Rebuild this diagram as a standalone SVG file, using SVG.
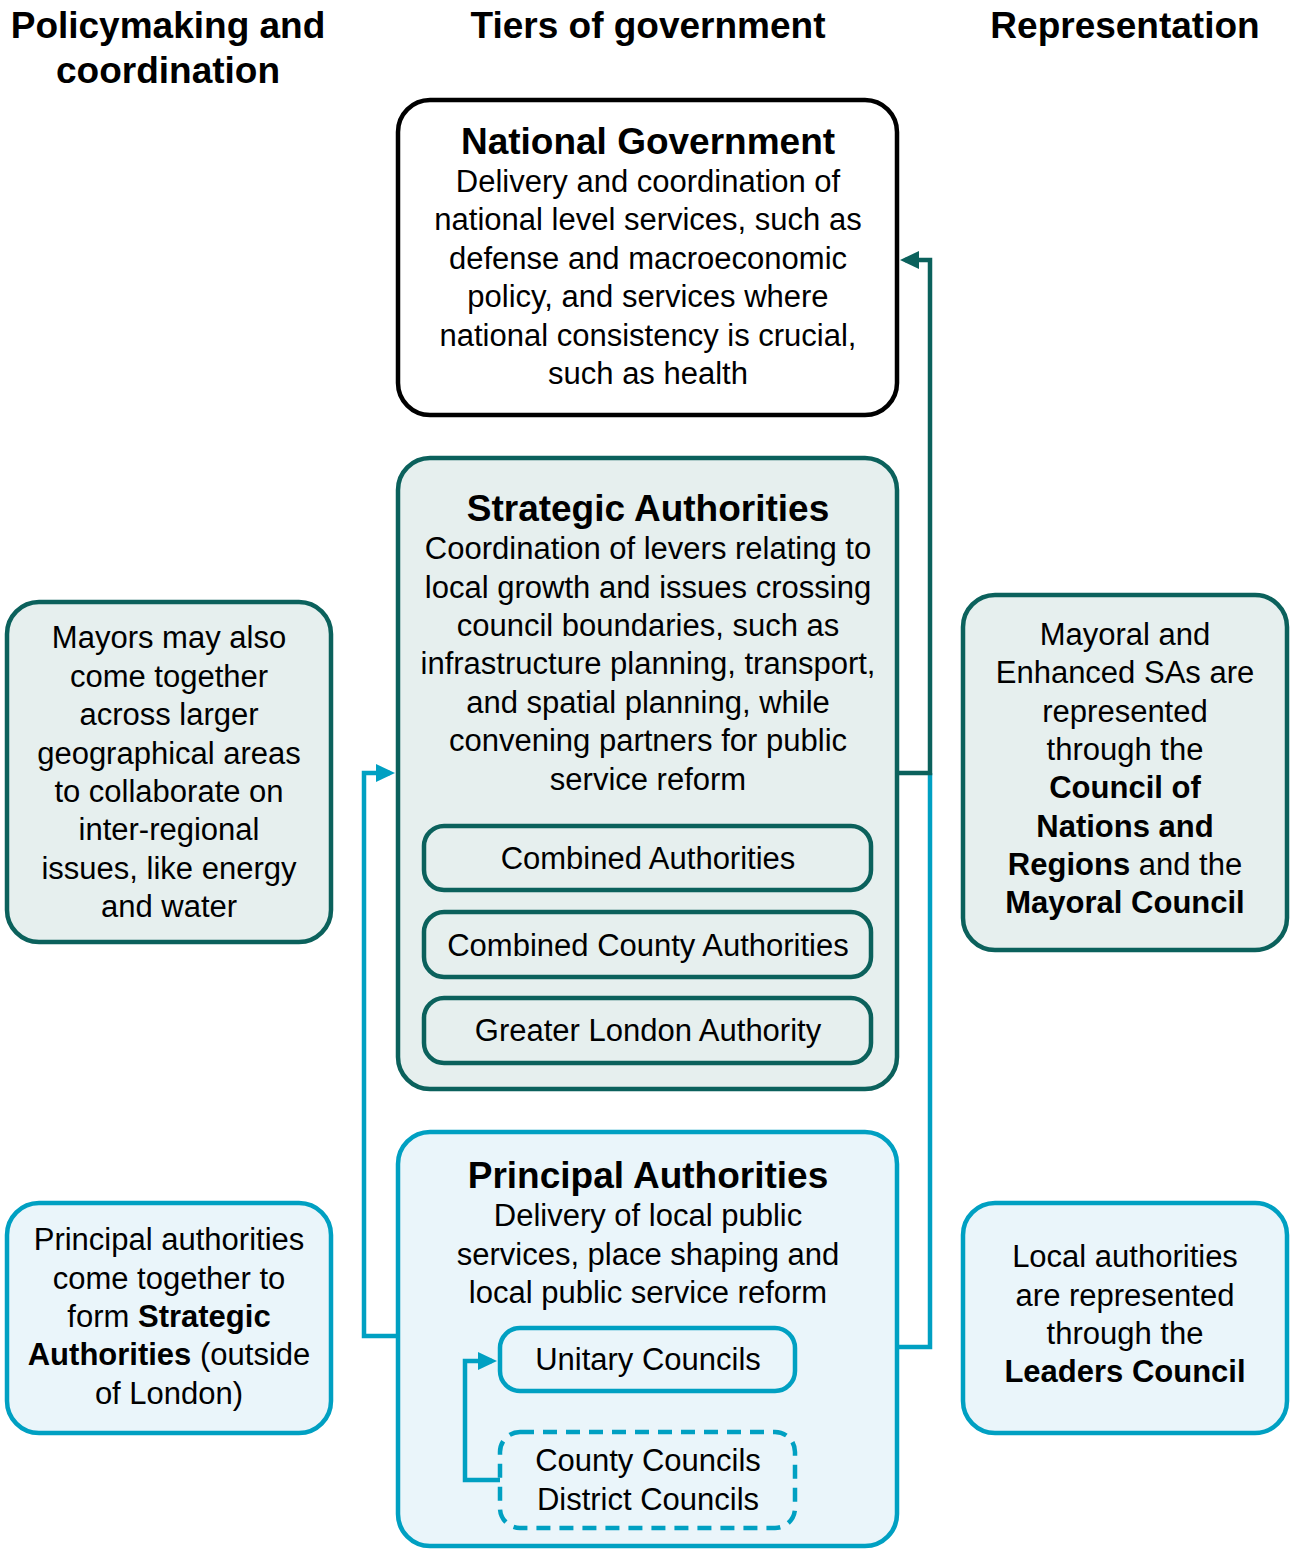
<svg xmlns="http://www.w3.org/2000/svg" width="1290" height="1549" viewBox="0 0 1290 1549">
<style>
text{font-family:"Liberation Sans",Arial,Helvetica,sans-serif;fill:#000;text-anchor:middle}
.h{font-size:37px;font-weight:bold}
.t{font-size:37px;font-weight:bold}
.b{font-size:31px}
.bb{font-weight:bold}
.nat{fill:#fff;stroke:#000;stroke-width:4.5}
.teal{fill:#e6efee;stroke:#0b615c;stroke-width:4.5}
.cyan{fill:#eaf5fa;stroke:#00a0c2;stroke-width:4.5}
.dash{stroke-dasharray:14 9}
.ct{fill:none;stroke:#0b615c;stroke-width:4.5}
.cc{fill:none;stroke:#00a0c2;stroke-width:4.5}
</style>
<defs>
<marker id="at" markerWidth="19" markerHeight="19" refX="14" refY="9.5" orient="auto" markerUnits="userSpaceOnUse"><path d="M0,0.5 L19,9.5 L0,18.5 z" fill="#0b615c"/></marker>
<marker id="ac" markerWidth="19" markerHeight="19" refX="14" refY="9.5" orient="auto" markerUnits="userSpaceOnUse"><path d="M0,0.5 L19,9.5 L0,18.5 z" fill="#00a0c2"/></marker>
</defs>
<g id="headers">
<text class="h" x="168" y="38">Policymaking and</text>
<text class="h" x="168" y="83">coordination</text>
<text class="h" x="648" y="38">Tiers of government</text>
<text class="h" x="1125" y="38">Representation</text>
</g>
<g id="connectors">
<path class="cc" d="M897,1347 H930 V773"/>
<path class="ct" d="M897,773 H930 V260 H905" marker-end="url(#at)"/>
<path class="cc" d="M398,1336 H364 V773 H390" marker-end="url(#ac)"/>
</g>
<g id="national">
<rect class="nat" x="398" y="100" width="499" height="315" rx="32"/>
<text class="t" x="648" y="154">National Government</text>
<text class="b" x="648" y="192">Delivery and coordination of</text>
<text class="b" x="648" y="230">national level services, such as</text>
<text class="b" x="648" y="269">defense and macroeconomic</text>
<text class="b" x="648" y="307">policy, and services where</text>
<text class="b" x="648" y="346">national consistency is crucial,</text>
<text class="b" x="648" y="384">such as health</text>
</g>
<g id="strategic">
<rect class="teal" x="398" y="458" width="499" height="631" rx="32"/>
<text class="t" x="648" y="521">Strategic Authorities</text>
<text class="b" x="648" y="559">Coordination of levers relating to</text>
<text class="b" x="648" y="598">local growth and issues crossing</text>
<text class="b" x="648" y="636">council boundaries, such as</text>
<text class="b" x="648" y="674">infrastructure planning, transport,</text>
<text class="b" x="648" y="713">and spatial planning, while</text>
<text class="b" x="648" y="751">convening partners for public</text>
<text class="b" x="648" y="790">service reform</text>
</g>
<g id="combined">
<rect class="teal" x="424" y="826" width="447" height="64" rx="20"/>
<text class="b" x="648" y="869">Combined Authorities</text>
</g>
<g id="combinedcounty">
<rect class="teal" x="424" y="912" width="447" height="65" rx="20"/>
<text class="b" x="648" y="956">Combined County Authorities</text>
</g>
<g id="gla">
<rect class="teal" x="424" y="998" width="447" height="65" rx="20"/>
<text class="b" x="648" y="1041">Greater London Authority</text>
</g>
<g id="principal">
<rect class="cyan" x="398" y="1132" width="499" height="414" rx="32"/>
<text class="t" x="648" y="1188">Principal Authorities</text>
<text class="b" x="648" y="1226">Delivery of local public</text>
<text class="b" x="648" y="1265">services, place shaping and</text>
<text class="b" x="648" y="1303">local public service reform</text>
</g>
<g id="inner-connector">
<path class="cc" d="M500,1480 H465 V1361 H492" marker-end="url(#ac)"/>
</g>
<g id="unitary">
<rect class="cyan" x="500" y="1328" width="295" height="63" rx="20"/>
<text class="b" x="648" y="1370">Unitary Councils</text>
</g>
<g id="countydistrict">
<rect class="cyan dash" x="500" y="1432" width="295" height="96" rx="20"/>
<text class="b" x="648" y="1471">County Councils</text>
<text class="b" x="648" y="1510">District Councils</text>
</g>
<g id="mayors">
<rect class="teal" x="7" y="602" width="324" height="340" rx="32"/>
<text class="b" x="169" y="648">Mayors may also</text>
<text class="b" x="169" y="687">come together</text>
<text class="b" x="169" y="725">across larger</text>
<text class="b" x="169" y="764">geographical areas</text>
<text class="b" x="169" y="802">to collaborate on</text>
<text class="b" x="169" y="840">inter-regional</text>
<text class="b" x="169" y="879">issues, like energy</text>
<text class="b" x="169" y="917">and water</text>
</g>
<g id="principal-note">
<rect class="cyan" x="7" y="1203" width="324" height="230" rx="32"/>
<text class="b" x="169" y="1250">Principal authorities</text>
<text class="b" x="169" y="1289">come together to</text>
<text class="b" x="169" y="1327">form <tspan class="bb">Strategic</tspan></text>
<text class="b" x="169" y="1365"><tspan class="bb">Authorities</tspan> (outside</text>
<text class="b" x="169" y="1404">of London)</text>
</g>
<g id="mayoral-rep">
<rect class="teal" x="963" y="595" width="324" height="355" rx="32"/>
<text class="b" x="1125" y="645">Mayoral and</text>
<text class="b" x="1125" y="683">Enhanced SAs are</text>
<text class="b" x="1125" y="722">represented</text>
<text class="b" x="1125" y="760">through the</text>
<text class="b bb" x="1125" y="798">Council of</text>
<text class="b bb" x="1125" y="837">Nations and</text>
<text class="b" x="1125" y="875"><tspan class="bb">Regions</tspan> and the</text>
<text class="b bb" x="1125" y="913">Mayoral Council</text>
</g>
<g id="local-rep">
<rect class="cyan" x="963" y="1203" width="324" height="230" rx="32"/>
<text class="b" x="1125" y="1267">Local authorities</text>
<text class="b" x="1125" y="1306">are represented</text>
<text class="b" x="1125" y="1344">through the</text>
<text class="b bb" x="1125" y="1382">Leaders Council</text>
</g>
</svg>
